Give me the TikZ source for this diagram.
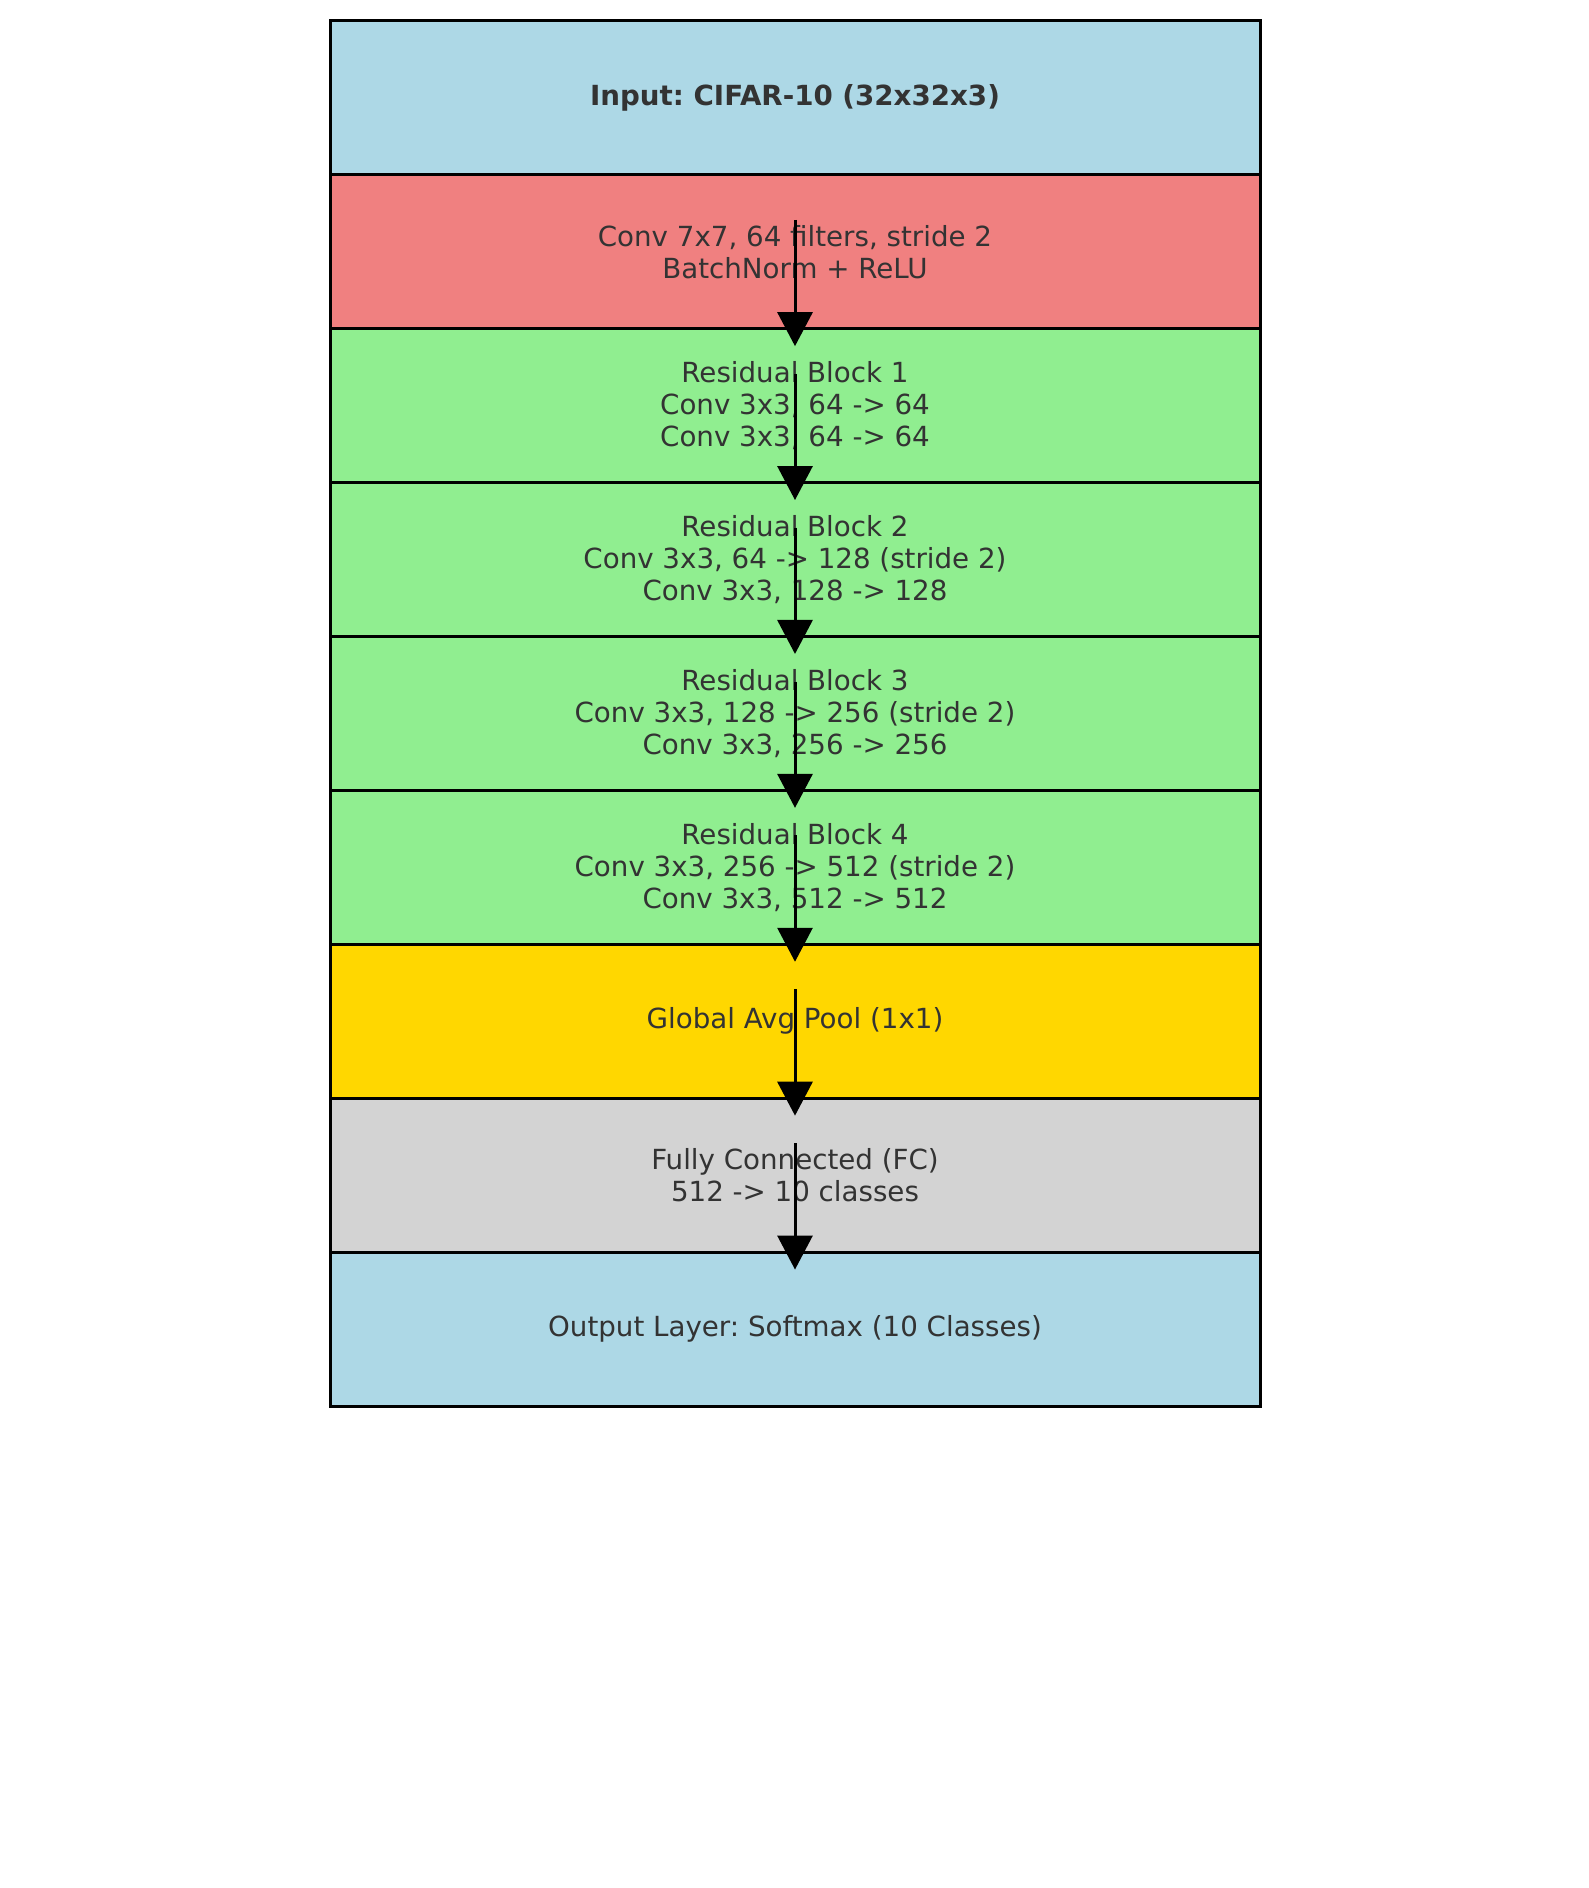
\documentclass[tikz,border=0pt]{standalone}
\usepackage{fontspec}
\setmainfont{DejaVu Sans}
\frenchspacing
\usetikzlibrary{arrows.meta,calc}
\definecolor{cInput}{HTML}{ADD8E6}
\definecolor{cConv}{HTML}{F08080}
\definecolor{cRes}{HTML}{90EE90}
\definecolor{cPool}{HTML}{FFD700}
\definecolor{cFC}{HTML}{D3D3D3}
\definecolor{txt}{HTML}{333333}
\begin{document}
\begin{tikzpicture}[x=1pt,y=-1pt,
  layer/.style={draw=black, line width=3pt, minimum width=930pt, minimum height=153.9pt,
    inner sep=0pt, outer sep=0pt, align=center, text=txt, font=\fontsize{27.7}{32}\selectfont\frenchspacing},
  flow/.style={-{Triangle[width=35pt,length=34pt]}, line width=3pt, draw=black}]
\useasboundingbox (0,0) rectangle (1589,1888);
\fill[white] (0,0) rectangle (1589,1888);
\node[layer, fill=cInput] (b1) at (795,97.9) {\textbf{Input: CIFAR-10 (32x32x3)}};
\node[layer, fill=cConv] (b2) at (795,251.8) {Conv 7x7, 64 filters, stride 2\\BatchNorm + ReLU};
\node[layer, fill=cRes] (b3) at (795,405.7) {Residual Block 1\\Conv 3x3, 64 -> 64\\Conv 3x3, 64 -> 64};
\node[layer, fill=cRes] (b4) at (795,559.6) {Residual Block 2\\Conv 3x3, 64 -> 128 (stride 2)\\Conv 3x3, 128 -> 128};
\node[layer, fill=cRes] (b5) at (795,713.5) {Residual Block 3\\Conv 3x3, 128 -> 256 (stride 2)\\Conv 3x3, 256 -> 256};
\node[layer, fill=cRes] (b6) at (795,867.4) {Residual Block 4\\Conv 3x3, 256 -> 512 (stride 2)\\Conv 3x3, 512 -> 512};
\node[layer, fill=cPool] (b7) at (795,1021.3) {Global Avg Pool (1x1)};
\node[layer, fill=cFC] (b8) at (795,1175.2) {Fully Connected (FC)\\512 -> 10 classes};
\node[layer, fill=cInput] (b9) at (795,1329.1) {Output Layer: Softmax (10 Classes)};
\foreach \a/\b in {b2/b3,b3/b4,b4/b5,b5/b6,b6/b7,b7/b8,b8/b9}
  \draw[flow] ($(\a.north)+(0,45)$) -- ($(\b.north)+(0,17.4)$);
\end{tikzpicture}
\end{document}
